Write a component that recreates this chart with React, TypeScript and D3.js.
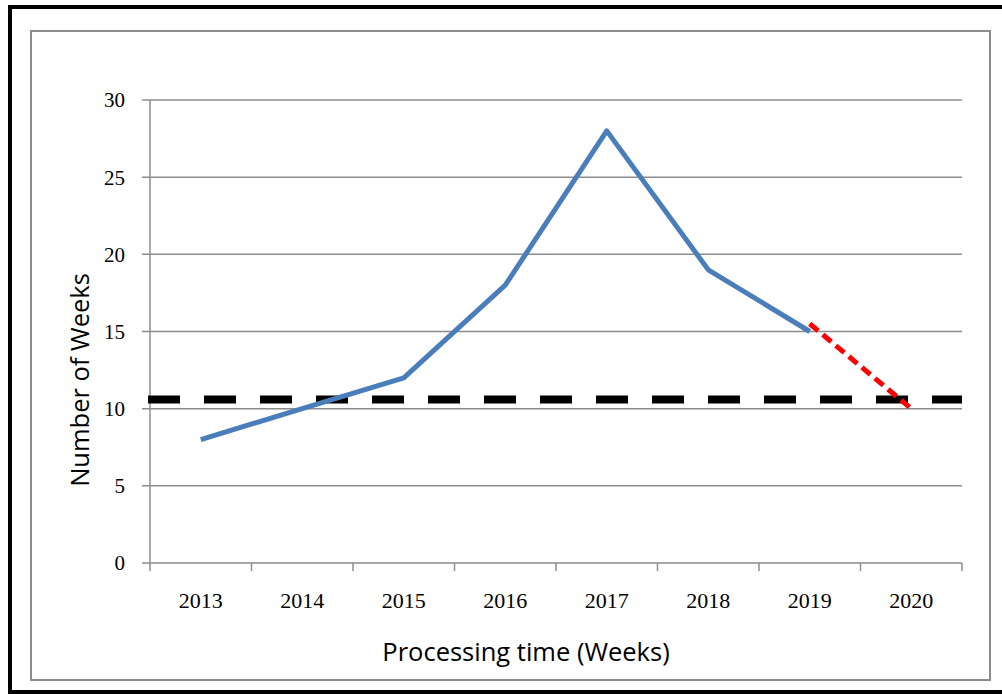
import React from "react";
import * as d3 from "d3";

const years = ["2013", "2014", "2015", "2016", "2017", "2018", "2019", "2020"];
const actualYears = ["2013", "2014", "2015", "2016", "2017", "2018", "2019"];
const actualWeeks = [8, 10, 12, 18, 28, 19, 15];
const projYears = ["2019", "2020"];
const projWeeks = [15.5, 10];
const targetWeeks = 10.6;
const yTicks = [0, 5, 10, 15, 20, 25, 30];

const W = 1002;
const H = 694;
const plot = { left: 150, right: 962, top: 100, bottom: 563 };

export default function App() {
  const x = d3.scaleBand<string>().domain(years).range([plot.left, plot.right]).padding(0);
  const y = d3.scaleLinear().domain([0, 30]).range([plot.bottom, plot.top]);
  const cx = (yr: string) => (x(yr) as number) + x.bandwidth() / 2;

  const line = d3
    .line<[string, number]>()
    .x((d) => cx(d[0]))
    .y((d) => y(d[1]));

  const actualPath = line(actualYears.map((yr, i) => [yr, actualWeeks[i]]))!;
  const projPath = line(projYears.map((yr, i) => [yr, projWeeks[i]]))!;

  const boundaries = years.map((yr) => x(yr) as number).concat([plot.right]);
  const grey = "#8c8c8c";
  const serif = "'Liberation Serif', 'DejaVu Serif', serif";
  const sans = "'Open Sans', 'Liberation Sans', sans-serif";

  return (
    <svg
      width={W}
      height={H}
      style={{ position: "absolute", left: 0, top: 0, background: "#fff" }}
    >
      <rect x={10} y={7} width={1000} height={685} fill="none" stroke="#000" strokeWidth={4} />
      <rect x={31} y={31} width={959} height={649} fill="none" stroke={grey} strokeWidth={2} />

      {yTicks.map((t) => (
        <g key={t}>
          <line x1={plot.left - 8} x2={plot.right} y1={y(t)} y2={y(t)} stroke={grey} strokeWidth={1.5} />
          <text
            x={125}
            y={y(t)}
            dy="0.35em"
            textAnchor="end"
            fontFamily={serif}
            fontSize={21}
            fill="#000"
          >
            {t}
          </text>
        </g>
      ))}

      <line x1={plot.left} x2={plot.left} y1={plot.top} y2={plot.bottom} stroke={grey} strokeWidth={1.5} />
      {boundaries.map((b, i) => (
        <line key={i} x1={b} x2={b} y1={plot.bottom} y2={plot.bottom + 8} stroke={grey} strokeWidth={1.5} />
      ))}

      {years.map((yr) => (
        <text
          key={yr}
          x={cx(yr)}
          y={608}
          textAnchor="middle"
          fontFamily={serif}
          fontSize={22}
          fill="#000"
        >
          {yr}
        </text>
      ))}

      <line
        x1={plot.left - 2}
        x2={plot.right}
        y1={y(targetWeeks)}
        y2={y(targetWeeks)}
        stroke="#000"
        strokeWidth={8}
        strokeDasharray="32 24"
      />

      <path d={actualPath} fill="none" stroke="#4a7ebb" strokeWidth={5} strokeLinejoin="round" />
      <path d={projPath} fill="none" stroke="#ff0000" strokeWidth={5} strokeDasharray="11 6" />

      <text
        x={526}
        y={661}
        textAnchor="middle"
        fontFamily={sans}
        fontSize={25.5}
        fill="#000"
      >
        Processing time (Weeks)
      </text>
      <text
        transform={`translate(89, 380) rotate(-90)`}
        textAnchor="middle"
        fontFamily={sans}
        fontSize={25.5}
        fill="#000"
      >
        Number of Weeks
      </text>
    </svg>
  );
}
